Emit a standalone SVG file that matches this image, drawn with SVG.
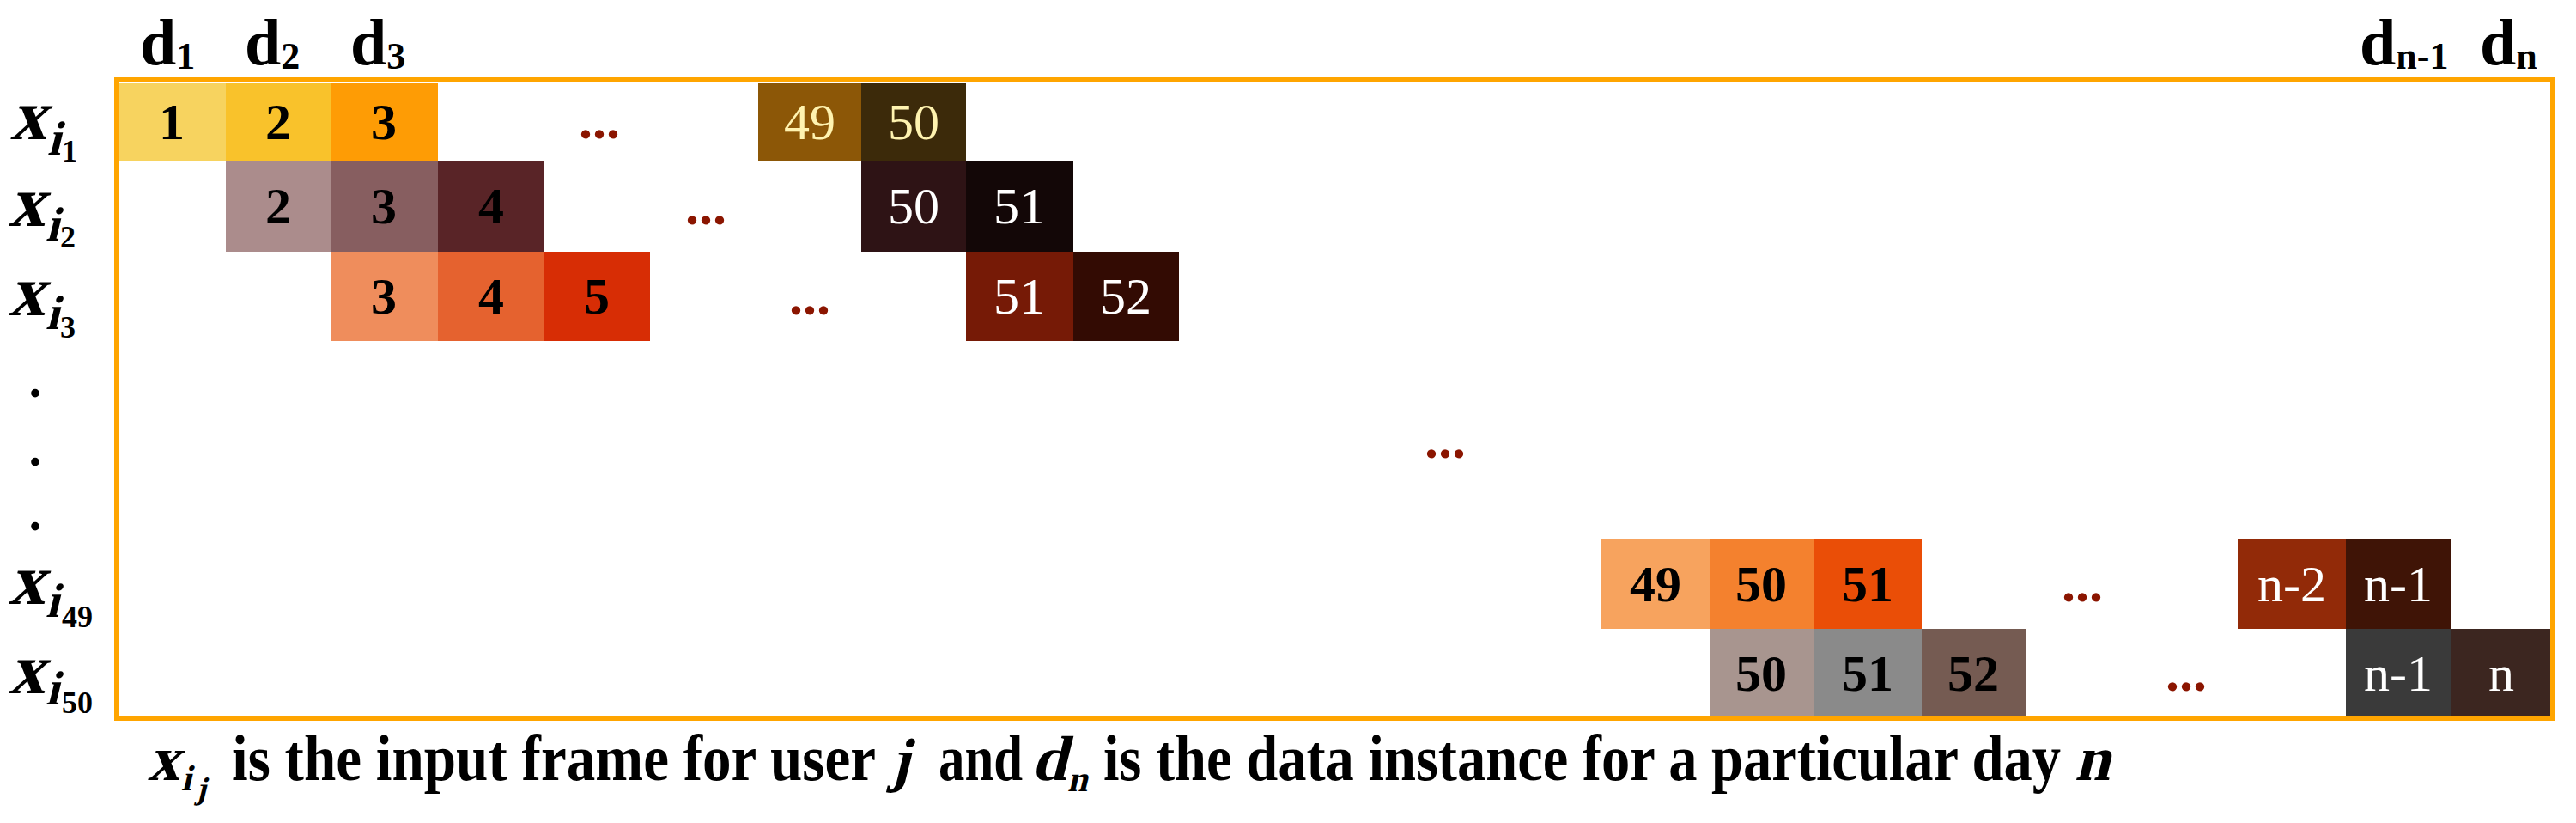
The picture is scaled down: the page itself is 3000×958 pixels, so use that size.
<svg xmlns="http://www.w3.org/2000/svg" width="3000" height="958" viewBox="0 0 3000 958">
<style>
text{font-family:"Liberation Serif","DejaVu Serif",serif;fill:#000}
.nb{font-size:60px;font-weight:bold;text-anchor:middle}
.nw{font-size:60px;text-anchor:middle;fill:#fff}
.ny{font-size:60px;text-anchor:middle;fill:#fff3b0}
.dots{font-size:64px;font-weight:bold;text-anchor:middle;fill:#8b1500}
.vdot{font-size:60px;font-weight:bold;text-anchor:middle}
.dl{font-size:76px;font-weight:bold}
.ds{font-size:44px;font-weight:bold}
.xl{font-size:84px;font-weight:bold}
.xi{font-size:56px;font-weight:bold}
.xs{font-size:36px;font-weight:bold}
.cap{font-size:76px;font-weight:bold}
.capi{font-size:74px;font-weight:bold}
.caps{font-size:42px;font-weight:bold}
.frame{fill:none;stroke:#ffa500;stroke-width:6}
</style>

<g id="column-labels">
  <g id="d1"><text class="dl" x="163" y="75">d<tspan class="ds" y="80">1</tspan></text></g>
  <g id="d2"><text class="dl" x="285" y="75">d<tspan class="ds" y="80">2</tspan></text></g>
  <g id="d3"><text class="dl" x="408" y="75">d<tspan class="ds" y="80">3</tspan></text></g>
  <g id="dn-1"><text class="dl" x="2748" y="75">d<tspan class="ds" y="80">n-1</tspan></text></g>
  <g id="dn"><text class="dl" x="2888" y="75">d<tspan class="ds" y="80">n</tspan></text></g>
</g>

<g id="row-labels">
  <g id="x-i1"><text class="xl" transform="translate(12,162) skewX(-14)">x</text><text class="xi" transform="translate(55,180) skewX(-14)">i</text><text class="xs" x="72" y="188">1</text></g>
  <g id="x-i2"><text class="xl" transform="translate(10,263) skewX(-14)">x</text><text class="xi" transform="translate(53,280) skewX(-14)">i</text><text class="xs" x="70" y="288">2</text></g>
  <g id="x-i3"><text class="xl" transform="translate(10,367) skewX(-14)">x</text><text class="xi" transform="translate(53,383) skewX(-14)">i</text><text class="xs" x="70" y="393">3</text></g>
  <g id="row-dots"><text class="vdot" x="41" y="462">.</text><text class="vdot" x="41" y="542">.</text><text class="vdot" x="41" y="617">.</text></g>
  <g id="x-i49"><text class="xl" transform="translate(10,703) skewX(-14)">x</text><text class="xi" transform="translate(53,718) skewX(-14)">i</text><text class="xs" x="72" y="730">49</text></g>
  <g id="x-i50"><text class="xl" transform="translate(10,807) skewX(-14)">x</text><text class="xi" transform="translate(53,820) skewX(-14)">i</text><text class="xs" x="72" y="830">50</text></g>
</g>

<g id="row1">
  <g id="r1-1"><rect x="138" y="97" width="125" height="90" fill="#f7d35f"/><text class="nb" x="200" y="162">1</text></g>
  <g id="r1-2"><rect x="263" y="97" width="122" height="90" fill="#f9c22b"/><text class="nb" x="324" y="162">2</text></g>
  <g id="r1-3"><rect x="385" y="97" width="125" height="90" fill="#fe9c05"/><text class="nb" x="447" y="162">3</text></g>
  <g id="r1-49"><rect x="883" y="97" width="120" height="90" fill="#8c5707"/><text class="ny" x="943" y="162">49</text></g>
  <g id="r1-50"><rect x="1003" y="97" width="122" height="90" fill="#3c2a0a"/><text class="ny" x="1064" y="162">50</text></g>
</g>
<g id="row2">
  <g id="r2-2"><rect x="263" y="187" width="122" height="106" fill="#ab8c8c"/><text class="nb" x="324" y="260">2</text></g>
  <g id="r2-3"><rect x="385" y="187" width="125" height="106" fill="#875e60"/><text class="nb" x="447" y="260">3</text></g>
  <g id="r2-4"><rect x="510" y="187" width="124" height="106" fill="#592427"/><text class="nb" x="572" y="260">4</text></g>
  <g id="r2-50"><rect x="1003" y="187" width="122" height="106" fill="#2e1315"/><text class="nw" x="1064" y="260">50</text></g>
  <g id="r2-51"><rect x="1125" y="187" width="125" height="106" fill="#130707"/><text class="nw" x="1187" y="260">51</text></g>
</g>
<g id="row3">
  <g id="r3-3"><rect x="385" y="293" width="125" height="104" fill="#ef8d5c"/><text class="nb" x="447" y="365">3</text></g>
  <g id="r3-4"><rect x="510" y="293" width="124" height="104" fill="#e5622f"/><text class="nb" x="572" y="365">4</text></g>
  <g id="r3-5"><rect x="634" y="293" width="123" height="104" fill="#d72d05"/><text class="nb" x="695" y="365">5</text></g>
  <g id="r3-51"><rect x="1125" y="293" width="125" height="104" fill="#761a06"/><text class="nw" x="1187" y="365">51</text></g>
  <g id="r3-52"><rect x="1250" y="293" width="123" height="104" fill="#330b03"/><text class="nw" x="1311" y="365">52</text></g>
</g>
<g id="row49">
  <g id="r49-49"><rect x="1865" y="627" width="126" height="105" fill="#f7a35e"/><text class="nb" x="1928" y="700">49</text></g>
  <g id="r49-50"><rect x="1991" y="627" width="121" height="105" fill="#f4812e"/><text class="nb" x="2051" y="700">50</text></g>
  <g id="r49-51"><rect x="2112" y="627" width="126" height="105" fill="#ea4e07"/><text class="nb" x="2175" y="700">51</text></g>
  <g id="r49-n-2"><rect x="2606" y="627" width="126" height="105" fill="#922a08"/><text class="nw" x="2669" y="700">n-2</text></g>
  <g id="r49-n-1"><rect x="2732" y="627" width="122" height="105" fill="#3f1406"/><text class="nw" x="2793" y="700">n-1</text></g>
</g>
<g id="row50">
  <g id="r50-50"><rect x="1991" y="732" width="121" height="104" fill="#a8958f"/><text class="nb" x="2051" y="804">50</text></g>
  <g id="r50-51"><rect x="2112" y="732" width="126" height="104" fill="#8a8a8a"/><text class="nb" x="2175" y="804">51</text></g>
  <g id="r50-52"><rect x="2238" y="732" width="121" height="104" fill="#755b52"/><text class="nb" x="2298" y="804">52</text></g>
  <g id="r50-n-1"><rect x="2732" y="732" width="122" height="104" fill="#3a3a3a"/><text class="nw" x="2793" y="804">n-1</text></g>
  <g id="r50-n"><rect x="2854" y="732" width="119" height="104" fill="#3c2620"/><text class="nw" x="2913" y="804">n</text></g>
</g>

<g id="ellipses">
  <text class="dots" x="698" y="161">...</text>
  <text class="dots" x="822" y="261">...</text>
  <text class="dots" x="943" y="366">...</text>
  <text class="dots" x="1683" y="533">...</text>
  <text class="dots" x="2425" y="700">...</text>
  <text class="dots" x="2546" y="804">...</text>
</g>

<rect id="frame" class="frame" x="136" y="93" width="2837" height="743"/>

<g id="caption">
  <text class="capi" transform="translate(172,908) skewX(-14)">x</text>
  <text class="caps" transform="translate(211,920) skewX(-14)">i</text>
  <text class="caps" transform="translate(228,930) skewX(-14)" style="font-size:36px">j</text>
  <text class="cap" x="270" y="908" textLength="750" lengthAdjust="spacingAndGlyphs">is the input frame for user</text>
  <text class="capi" transform="translate(1036,908) skewX(-14)" style="font-size:70px">j</text>
  <text class="cap" x="1093" y="908" textLength="98" lengthAdjust="spacingAndGlyphs">and</text>
  <text class="capi" transform="translate(1201,908) skewX(-14)">d</text>
  <text class="caps" transform="translate(1243,921) skewX(-14)">n</text>
  <text class="cap" x="1285" y="908" textLength="1115" lengthAdjust="spacingAndGlyphs">is the data instance for a particular day</text>
  <text class="capi" transform="translate(2416,908) skewX(-14)">n</text>
</g>
</svg>
